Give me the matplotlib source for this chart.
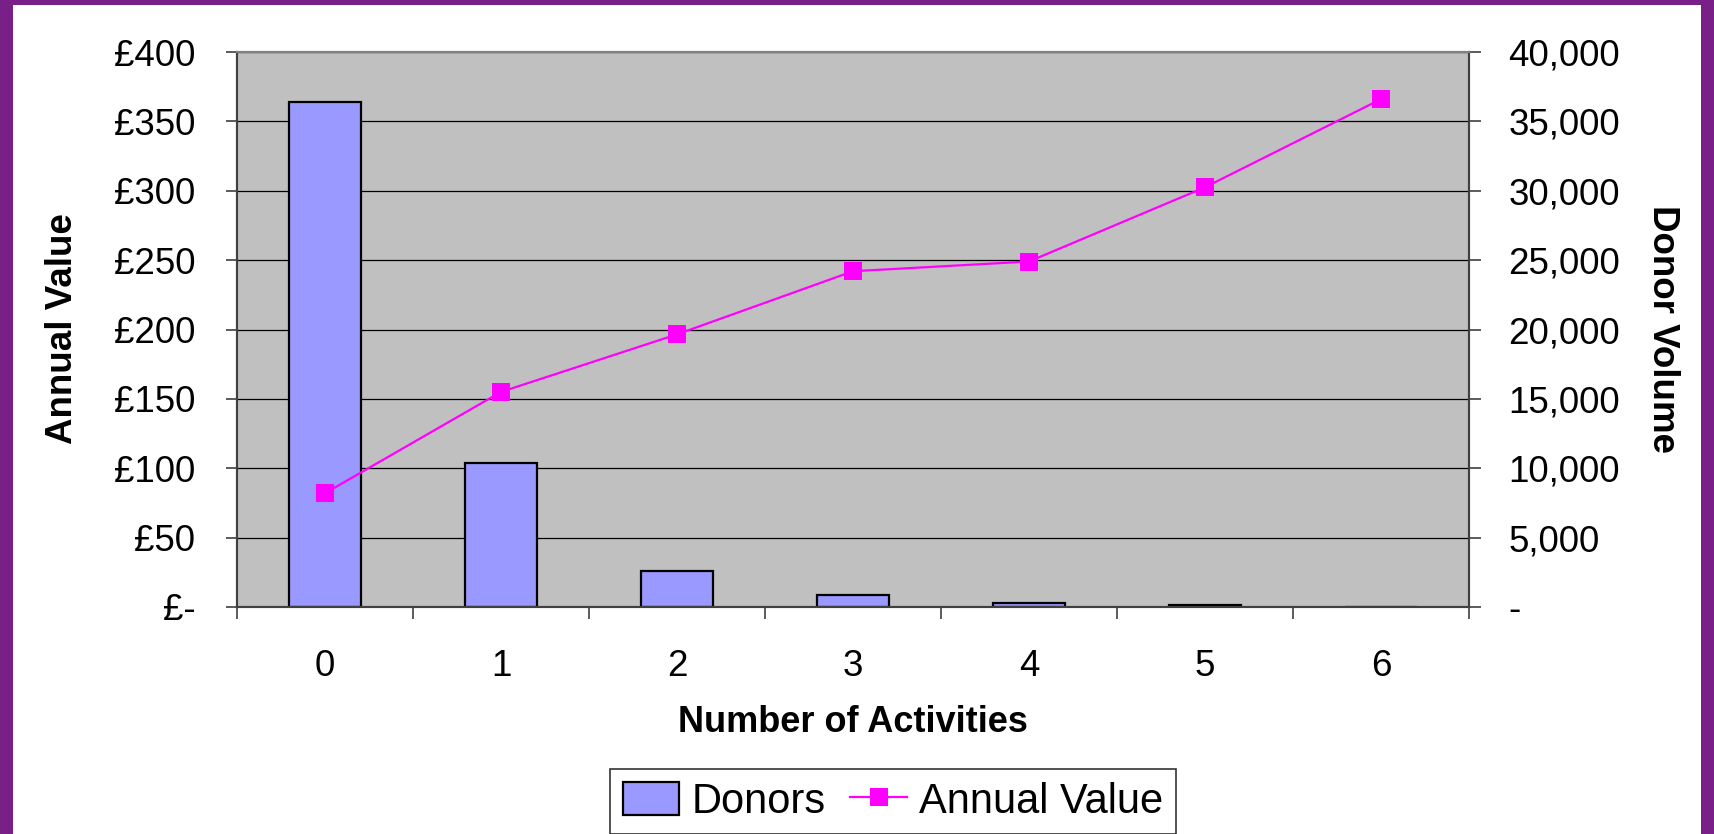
import matplotlib
matplotlib.use("Agg")
import matplotlib.pyplot as plt
from matplotlib.patches import Rectangle
from matplotlib.ticker import FuncFormatter, FixedLocator

plt.rcParams['font.family'] = ['Liberation Sans', 'DejaVu Sans']

# Data
activities = [0, 1, 2, 3, 4, 5, 6]
donors = [36400, 10400, 2600, 860, 310, 180, 0]
annual_value = [82, 155, 196.5, 242, 249, 302.5, 366]

DPI = 100
fig = plt.figure(figsize=(17.15, 8.34), dpi=DPI)
fig.patch.set_facecolor('#782088')
# white chart area inside the purple border
fig.patches.append(Rectangle((13 / 1715, 0), (1701 - 13) / 1715, 1 - 5 / 834,
                             transform=fig.transFigure, facecolor='white',
                             edgecolor='none', zorder=-5))

left, right = 237 / 1715, 1469 / 1715
bottom, top = 1 - 607 / 834, 1 - 52 / 834
ax = fig.add_axes([left, bottom, right - left, top - bottom])
ax2 = ax.twinx()

# bars on the right axis (Donor Volume), drawn underneath the line
ax.set_zorder(ax2.get_zorder() + 1)
ax.patch.set_visible(False)
ax2.patch.set_visible(True)
ax2.patch.set_facecolor('#C0C0C0')
ax2.set_axisbelow(True)
ax2.bar(activities, donors, width=0.405, color='#9999FF', edgecolor='black',
        linewidth=1.6, zorder=2)
ax2.set_ylim(0, 40000)
ax2.yaxis.set_major_locator(FixedLocator(range(0, 40001, 5000)))
ax2.yaxis.set_major_formatter(FuncFormatter(lambda v, p: '-' if v == 0 else f'{int(v):,}'))
ax2.grid(axis='y', color='black', linewidth=0.9, zorder=1)

# line on the left axis (Annual Value)
ax.plot(activities, annual_value, color='#FF00FF', linewidth=1.6, marker='s',
        markersize=13.4, markeredgewidth=0, zorder=3)
ax.set_ylim(0, 400)
ax.yaxis.set_major_locator(FixedLocator(range(0, 401, 50)))
ax.yaxis.set_major_formatter(FuncFormatter(lambda v, p: '£-' if v == 0 else f'£{int(v)}'))

ax.set_xlim(-0.5, 6.5)
ax.set_xticks(activities)
ax.set_xticks([x - 0.5 for x in range(8)], minor=True)
ax.tick_params(axis='x', which='major', length=0, pad=30, labelsize=26.5)
ax.tick_params(axis='x', which='minor', length=8.5, width=1.2, color='#404040')
ax.tick_params(axis='y', length=8, width=1.2, color='#404040', pad=22, labelsize=26.5)
ax2.tick_params(axis='y', length=8.5, width=1.2, color='#404040', pad=20, labelsize=26.5)

for a in (ax, ax2):
    for side in ('left', 'right', 'bottom'):
        a.spines[side].set_color('#404040')
        a.spines[side].set_linewidth(1.5)
    a.spines['top'].set_color('#808080')
    a.spines['top'].set_linewidth(1.5)

fig.text(63 / 1715, 1 - 329 / 834, 'Annual Value', rotation=90, fontsize=26.5,
         fontweight='bold', ha='center', va='center')
fig.text(1663 / 1715, 1 - 329 / 834, 'Donor Volume', rotation=-90, fontsize=26.5,
         fontweight='bold', ha='center', va='center')
fig.text(853 / 1715, 1 - 723 / 834, 'Number of Activities', fontsize=26,
         fontweight='bold', ha='center', va='center')

bar_handle = Rectangle((0, 0), 1, 1, facecolor='#9999FF', edgecolor='black', linewidth=1.6)
line_handle = plt.Line2D([], [], color='#FF00FF', linewidth=1.6, marker='s',
                         markersize=13.4, markeredgewidth=0)
leg = fig.legend([bar_handle, line_handle], ['Donors', 'Annual Value'],
                 loc='upper center', bbox_to_anchor=(893 / 1715, 1 - 769 / 834), ncol=2,
                 fontsize=30, frameon=True, fancybox=False, edgecolor='black',
                 handlelength=1.35, handleheight=0.85, handletextpad=0.3,
                 columnspacing=0.6, borderpad=0.3, borderaxespad=0)
leg.get_frame().set_linewidth(1.2)

fig.savefig('out.png', dpi=DPI, facecolor=fig.get_facecolor())
